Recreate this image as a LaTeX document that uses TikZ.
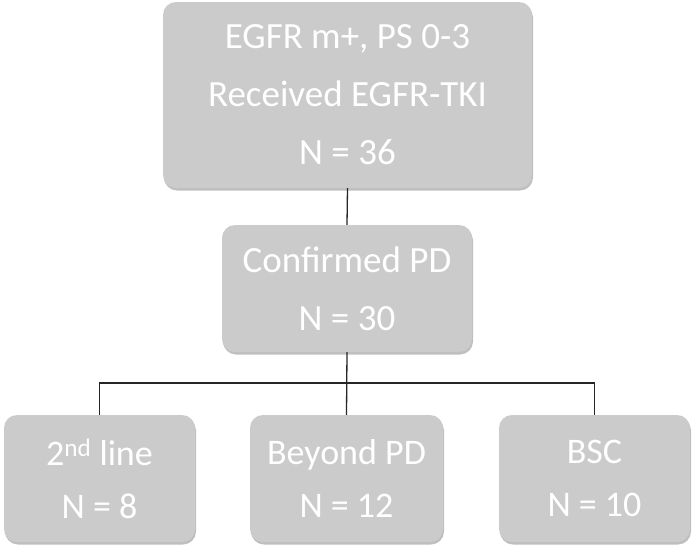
\documentclass[tikz,border=0pt]{standalone}
\usepackage{fontspec}
\setmainfont{Carlito}
\usetikzlibrary{shadows}
\definecolor{boxgray}{RGB}{203,203,203}
\begin{document}
\begin{tikzpicture}[x=1pt,y=-1pt,
  box/.style={draw=none, fill=boxgray, rounded corners=13pt, text=white,
    align=center, inner sep=0pt,
    drop shadow={shadow xshift=1pt, shadow yshift=-2.5pt, opacity=0.25, fill=black}},
  bigtext/.style={font=\fontsize{37}{58}\selectfont},
  smalltext/.style={font=\fontsize{36}{53}\selectfont},
  conn/.style={draw=black!85, line width=1.3pt}]
\useasboundingbox (0,0) rectangle (694,549);
\node[box, bigtext, minimum width=369pt, minimum height=186pt] (top) at (347.5,95)
  {EGFR m+, PS 0-3\\Received EGFR-TKI\\N = 36};
\node[box, bigtext, minimum width=250pt, minimum height=127pt] (mid) at (347,288.5)
  {Confirmed PD\\N = 30};
\node[box, smalltext, minimum width=191pt, minimum height=127pt] (left) at (99.5,478.5)
  {2\textsuperscript{nd} line\\N = 8};
\node[box, smalltext, minimum width=193pt, minimum height=127pt] (center) at (346.5,478.5)
  {Beyond PD\\N = 12};
\node[box, smalltext, minimum width=191pt, minimum height=127pt] (right) at (594.5,478.5)
  {BSC\\N = 10};
\coordinate (bus) at (347,383);
\draw[conn] (top.south) -- (mid.north);
\draw[conn] (mid.south) -- (center.north);
\draw[conn] (left.north) |- (bus) -| (right.north);
\end{tikzpicture}
\end{document}
